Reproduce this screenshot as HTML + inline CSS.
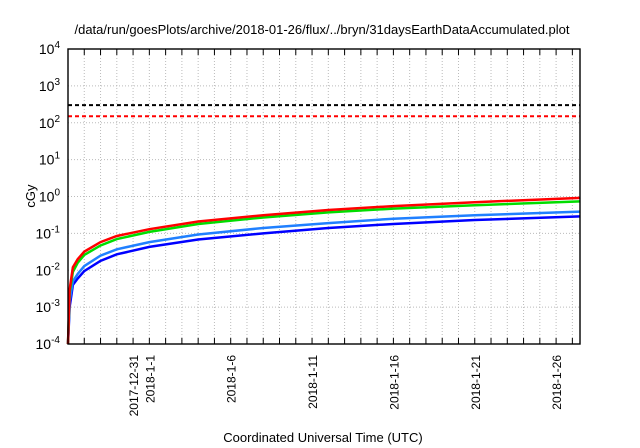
<!DOCTYPE html>
<html><head><meta charset="utf-8"><style>
body{margin:0;background:#fff}
svg{display:block;font-family:"Liberation Sans",sans-serif}
</style></head><body>
<svg id="c" width="640" height="448">
<text x="322" y="34" text-anchor="middle" font-size="13">/data/run/goesPlots/archive/2018-01-26/flux/../bryn/31daysEarthDataAccumulated.plot</text>
<text x="323" y="442" text-anchor="middle" font-size="13">Coordinated Universal Time (UTC)</text>
<text transform="translate(35,196) rotate(-90)" text-anchor="middle" font-size="13">cGy</text>
<g id="grid"></g><g id="axes"></g><g id="series"></g>
<rect x="68" y="49" width="512" height="295" fill="none" stroke="#000" stroke-width="1.4"/>
</svg>
<script>
const days=[0,0.1,0.3,0.6,1,2,3,5,8,12,16,20,25,31.5];
const red=[1e-4,0.003,0.012,0.02,0.032,0.058,0.085,0.13,0.21,0.31,0.43,0.55,0.7,0.92];
const green=[1e-4,0.0025,0.009,0.016,0.026,0.047,0.07,0.11,0.18,0.27,0.37,0.47,0.58,0.74];
const lightBlue=[1e-4,0.0015,0.005,0.008,0.013,0.025,0.037,0.058,0.093,0.14,0.19,0.25,0.31,0.39];
const darkBlue=[1e-4,0.001,0.004,0.006,0.0095,0.018,0.027,0.043,0.068,0.1,0.14,0.18,0.23,0.29];
const thresholds=[300,150];
const yExps=[-4,-3,-2,-1,0,1,2,3,4];
const xLabels=["2017-12-31","2018-1-1","2018-1-6","2018-1-11","2018-1-16","2018-1-21","2018-1-26"];
const xLabelDays=[4,5,10,15,20,25,30];
const nDays=31;
const L=68,R=580,T=49,B=344,dayW=16.27;
const X=d=>L+d*dayW;
const Y=v=>B-(Math.log10(v)+4)*(B-T)/8;
const NS="http://www.w3.org/2000/svg";
function mk(p,t,a){const e=document.createElementNS(NS,t);for(const k in a)e.setAttribute(k,a[k]);p.appendChild(e);return e;}
const g=document.getElementById('grid'),ax=document.getElementById('axes'),s=document.getElementById('series');
yExps.forEach(e=>{const y=Y(Math.pow(10,e));
 if(e>-4&&e<4){const l=mk(g,'line',{x1:L,x2:R,y1:y,y2:y,stroke:'#bbb','stroke-dasharray':'1,2'});
 
 }
 const t=mk(ax,'text',{x:L-8,y:y+5,'text-anchor':'end','font-size':'14'});
 
 
 t.innerHTML='10<tspan dy="-6" font-size="10">'+e+'</tspan>';
});
for(let d=1;d<=nDays;d++){const x=X(d);
 const l=mk(g,'line',{x1:x,x2:x,y1:T,y2:B,stroke:'#bbb','stroke-dasharray':'1,2'});
 
 
 const t1=mk(ax,'line',{x1:x,x2:x,y1:B,y2:B-6,stroke:'#000'});
 
 
 const t2=mk(ax,'line',{x1:x,x2:x,y1:T,y2:T+6,stroke:'#000'});
 
 
}
xLabels.forEach((lab,i)=>{const x=X(xLabelDays[i]);
 const t=mk(ax,'text',{transform:`translate(${x+5},${B+11}) rotate(-90)`,'text-anchor':'end','font-size':'12'});
 
 
 t.textContent=lab;
});
const thrCol=['#000','#f00'];
thresholds.forEach((v,i)=>{const y=Y(v);
 const l=mk(s,'line',{x1:L,x2:R,y1:y,y2:y,stroke:thrCol[i],'stroke-width':2,'stroke-dasharray':'4,3'});
 
 
});
[[darkBlue,'#0000ff','dark-blue-series'],[lightBlue,'#2080ff','light-blue-series'],[green,'#00dd00','green-series'],[red,'#ff0000','red-series']].forEach(([arr,c,n])=>{
 const p=mk(s,'polyline',{points:days.map((d,i)=>X(d)+','+Y(arr[i])).join(' '),fill:'none',stroke:c,'stroke-width':2.5});
 
 
});
</script>
</body></html>
